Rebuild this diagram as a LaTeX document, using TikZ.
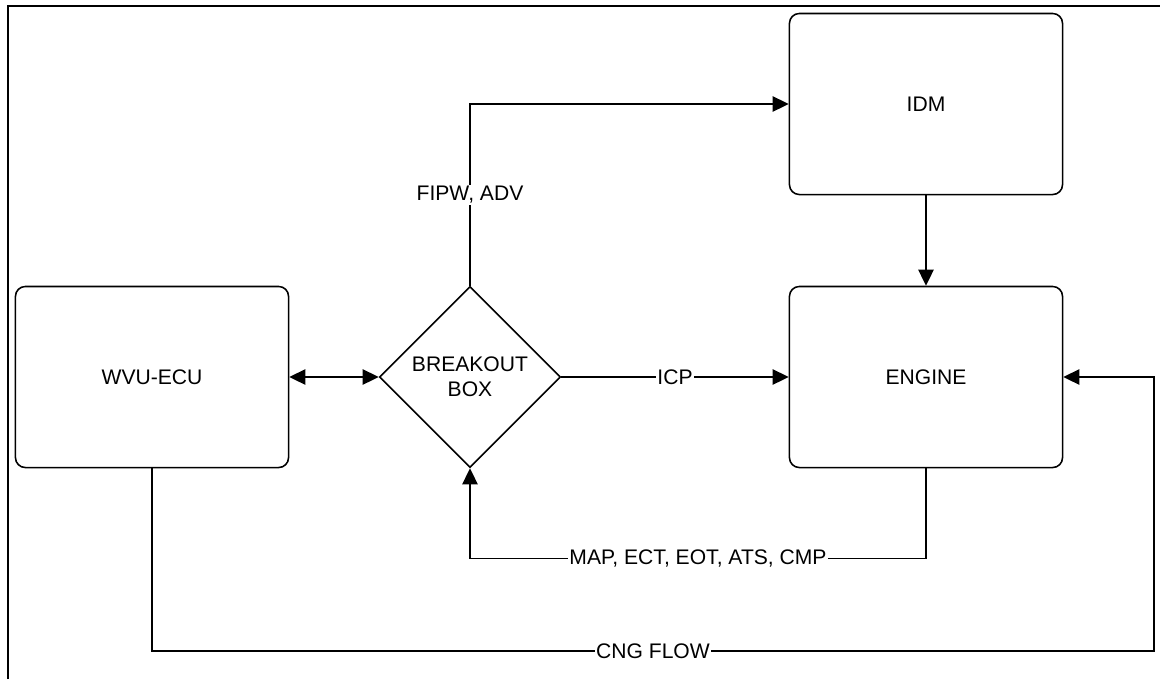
\documentclass[tikz,border=0pt]{standalone}
\usepackage{fontspec}
\setmainfont{Liberation Sans}
\usetikzlibrary{shapes.geometric,arrows.meta,positioning}

\begin{document}
\begin{tikzpicture}[x=0.025cm,y=-0.025cm,line width=1.1pt,
  every node/.style={font=\fontsize{15}{17.7}\selectfont},
  block/.style={draw,rounded corners=7pt,minimum width=6.825cm,minimum height=4.525cm,inner sep=0pt},
  bobox/.style={draw,diamond,aspect=1,minimum size=4.525cm,inner sep=0pt,align=center},
  sig/.style={fill=white,inner sep=1pt},
  >={Triangle[length=11.5pt,width=11pt]}]

  \useasboundingbox (0,0) rectangle (1160,679);

  % frame
  \draw[line width=1.6pt] (8,679) -- (8,6) -- (1160,6);

  % blocks
  \node[block] (wvuecu) at (152,377) {WVU-ECU};
  \node[bobox] (bob) at (470,377) {BREAKOUT\\BOX};
  \node[block] (idm) at (926,104) {IDM};
  \node[block] (engine) at (926,377) {ENGINE};

  \coordinate (cngturn) at (1154,651);

  % signals
  \draw[<->] (wvuecu) -- (bob);
  \draw[->] (bob.north) |- node[pos=.25,sig] {FIPW, ADV} (idm.west);
  \draw[->] (idm) -- (engine);
  \draw[->] (bob) -- node[sig] {ICP} (engine);
  \draw[->] (engine.south) -- ++(0,90) -| node[pos=.25,sig] {MAP, ECT, EOT, ATS, CMP} (bob.south);

  % gas
  \draw[->] (wvuecu.south) |- node[pos=.75,sig] {CNG FLOW} (cngturn) |- (engine.east);

\end{tikzpicture}
\end{document}
